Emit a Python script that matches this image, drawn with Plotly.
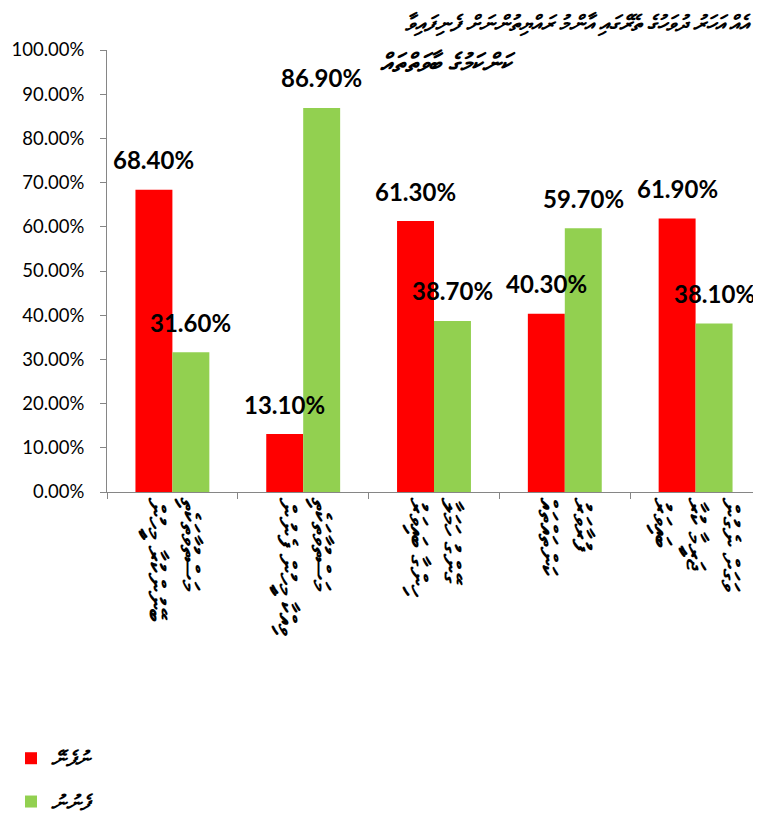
import plotly.graph_objects as go

categories = [
    "މަސްތުވާތަކެތި<br>ބޭނުންކުރާ މީހުން",
    "މަސްތުވާތަކެތި<br>ވިއްކާ މީހުން ފެނުން",
    "ގޭންގު ހަމަލާ<br>ހިންގާ ބައިވަރު",
    "ފުރާވަރު<br>ކަންތައްތައް",
    "ވަގަށް ނެގުން<br>ޖަރީމާ ކުރާ<br>ބައިވަރު",
]
series_names = ["ނުފެނޭ", "ފެނުނު"]
no_values = [68.40, 13.10, 61.30, 40.30, 61.90]
yes_values = [31.60, 86.90, 38.70, 59.70, 38.10]
series_colors = ["#FF0000", "#92D050"]
title_line1 = "އެއް އަހަރު ދުވަހުގެ ތެރޭގައި އާންމު ރައްޔިތުންނަށް ފެނިފައިވާ"
title_line2 = "ކަންކަމުގެ ބާވަތްތައް"
y_ticks = [0, 10, 20, 30, 40, 50, 60, 70, 80, 90, 100]

thaana_font = "Noto Sans, DejaVu Sans, sans-serif"

fig = go.Figure()
for i, (name, vals) in enumerate(zip(series_names, [no_values, yes_values])):
    fig.add_trace(go.Bar(
        x=categories, y=vals, name=f"<b><i>{name}</i></b>",
        marker=dict(color=series_colors[i], line=dict(width=0)),
        legendgroup=f"g{i}",
    ))

annotations = []
for i, vals in enumerate([no_values, yes_values]):
    shift = -18.5 if i == 0 else 18.5
    for c, v in zip(categories, vals):
        annotations.append(dict(
            x=c, y=v, xref="x", yref="y", text=f"{v:.2f}%",
            showarrow=False, xshift=shift, yshift=30, yanchor="middle",
            font=dict(family="Lato", size=24, color="#000000", weight="bold"),
        ))

annotations.append(dict(
    x=1, y=1, xref="paper", yref="paper", text=f"<b><i>{title_line1}</i></b>",
    showarrow=False, xanchor="right", yanchor="middle", xshift=-8, yshift=28,
    font=dict(family=thaana_font, size=22, color="#000000"),
))
annotations.append(dict(
    x=(378 - 107) / 654, y=1, xref="paper", yref="paper", text=f"<b><i>{title_line2}</i></b>",
    showarrow=False, xanchor="left", yanchor="middle", yshift=-12,
    font=dict(family=thaana_font, size=26, color="#000000"),
))

fig.update_layout(
    width=753, height=813,
    margin=dict(l=99, r=0, t=42, b=329, autoexpand=False),
    paper_bgcolor="white", plot_bgcolor="white",
    barmode="group", bargap=0.435, bargroupgap=0,
    showlegend=True,
    legend=dict(
        xref="container", yref="container", x=0.004, y=0.102,
        xanchor="left", yanchor="top", orientation="v",
        tracegroupgap=13,
        font=dict(family=thaana_font, size=21, color="#000000"),
        bgcolor="rgba(0,0,0,0)",
    ),
    annotations=annotations,
    font=dict(family="Lato", color="#000000"),
)
fig.update_yaxes(
    range=[0, 100], tickvals=y_ticks, automargin=False,
    ticktext=[f"{t:.2f}%" for t in y_ticks],
    showgrid=False, zeroline=False,
    showline=True, linecolor="#868686", linewidth=1,
    ticks="outside", ticklen=6, tickcolor="#868686", ticklabelstandoff=12,
    tickfont=dict(family="Lato", size=18.5, color="#000000"),
)
fig.update_xaxes(
    showgrid=False, showline=True, linecolor="#868686", linewidth=1, automargin=False,
    ticks="outside", ticklen=6, tickcolor="#868686", tickson="boundaries",
    tickangle=90,
    tickfont=dict(family=thaana_font, size=26, color="#000000", weight="bold"),
)

fig.write_html("out.html")
